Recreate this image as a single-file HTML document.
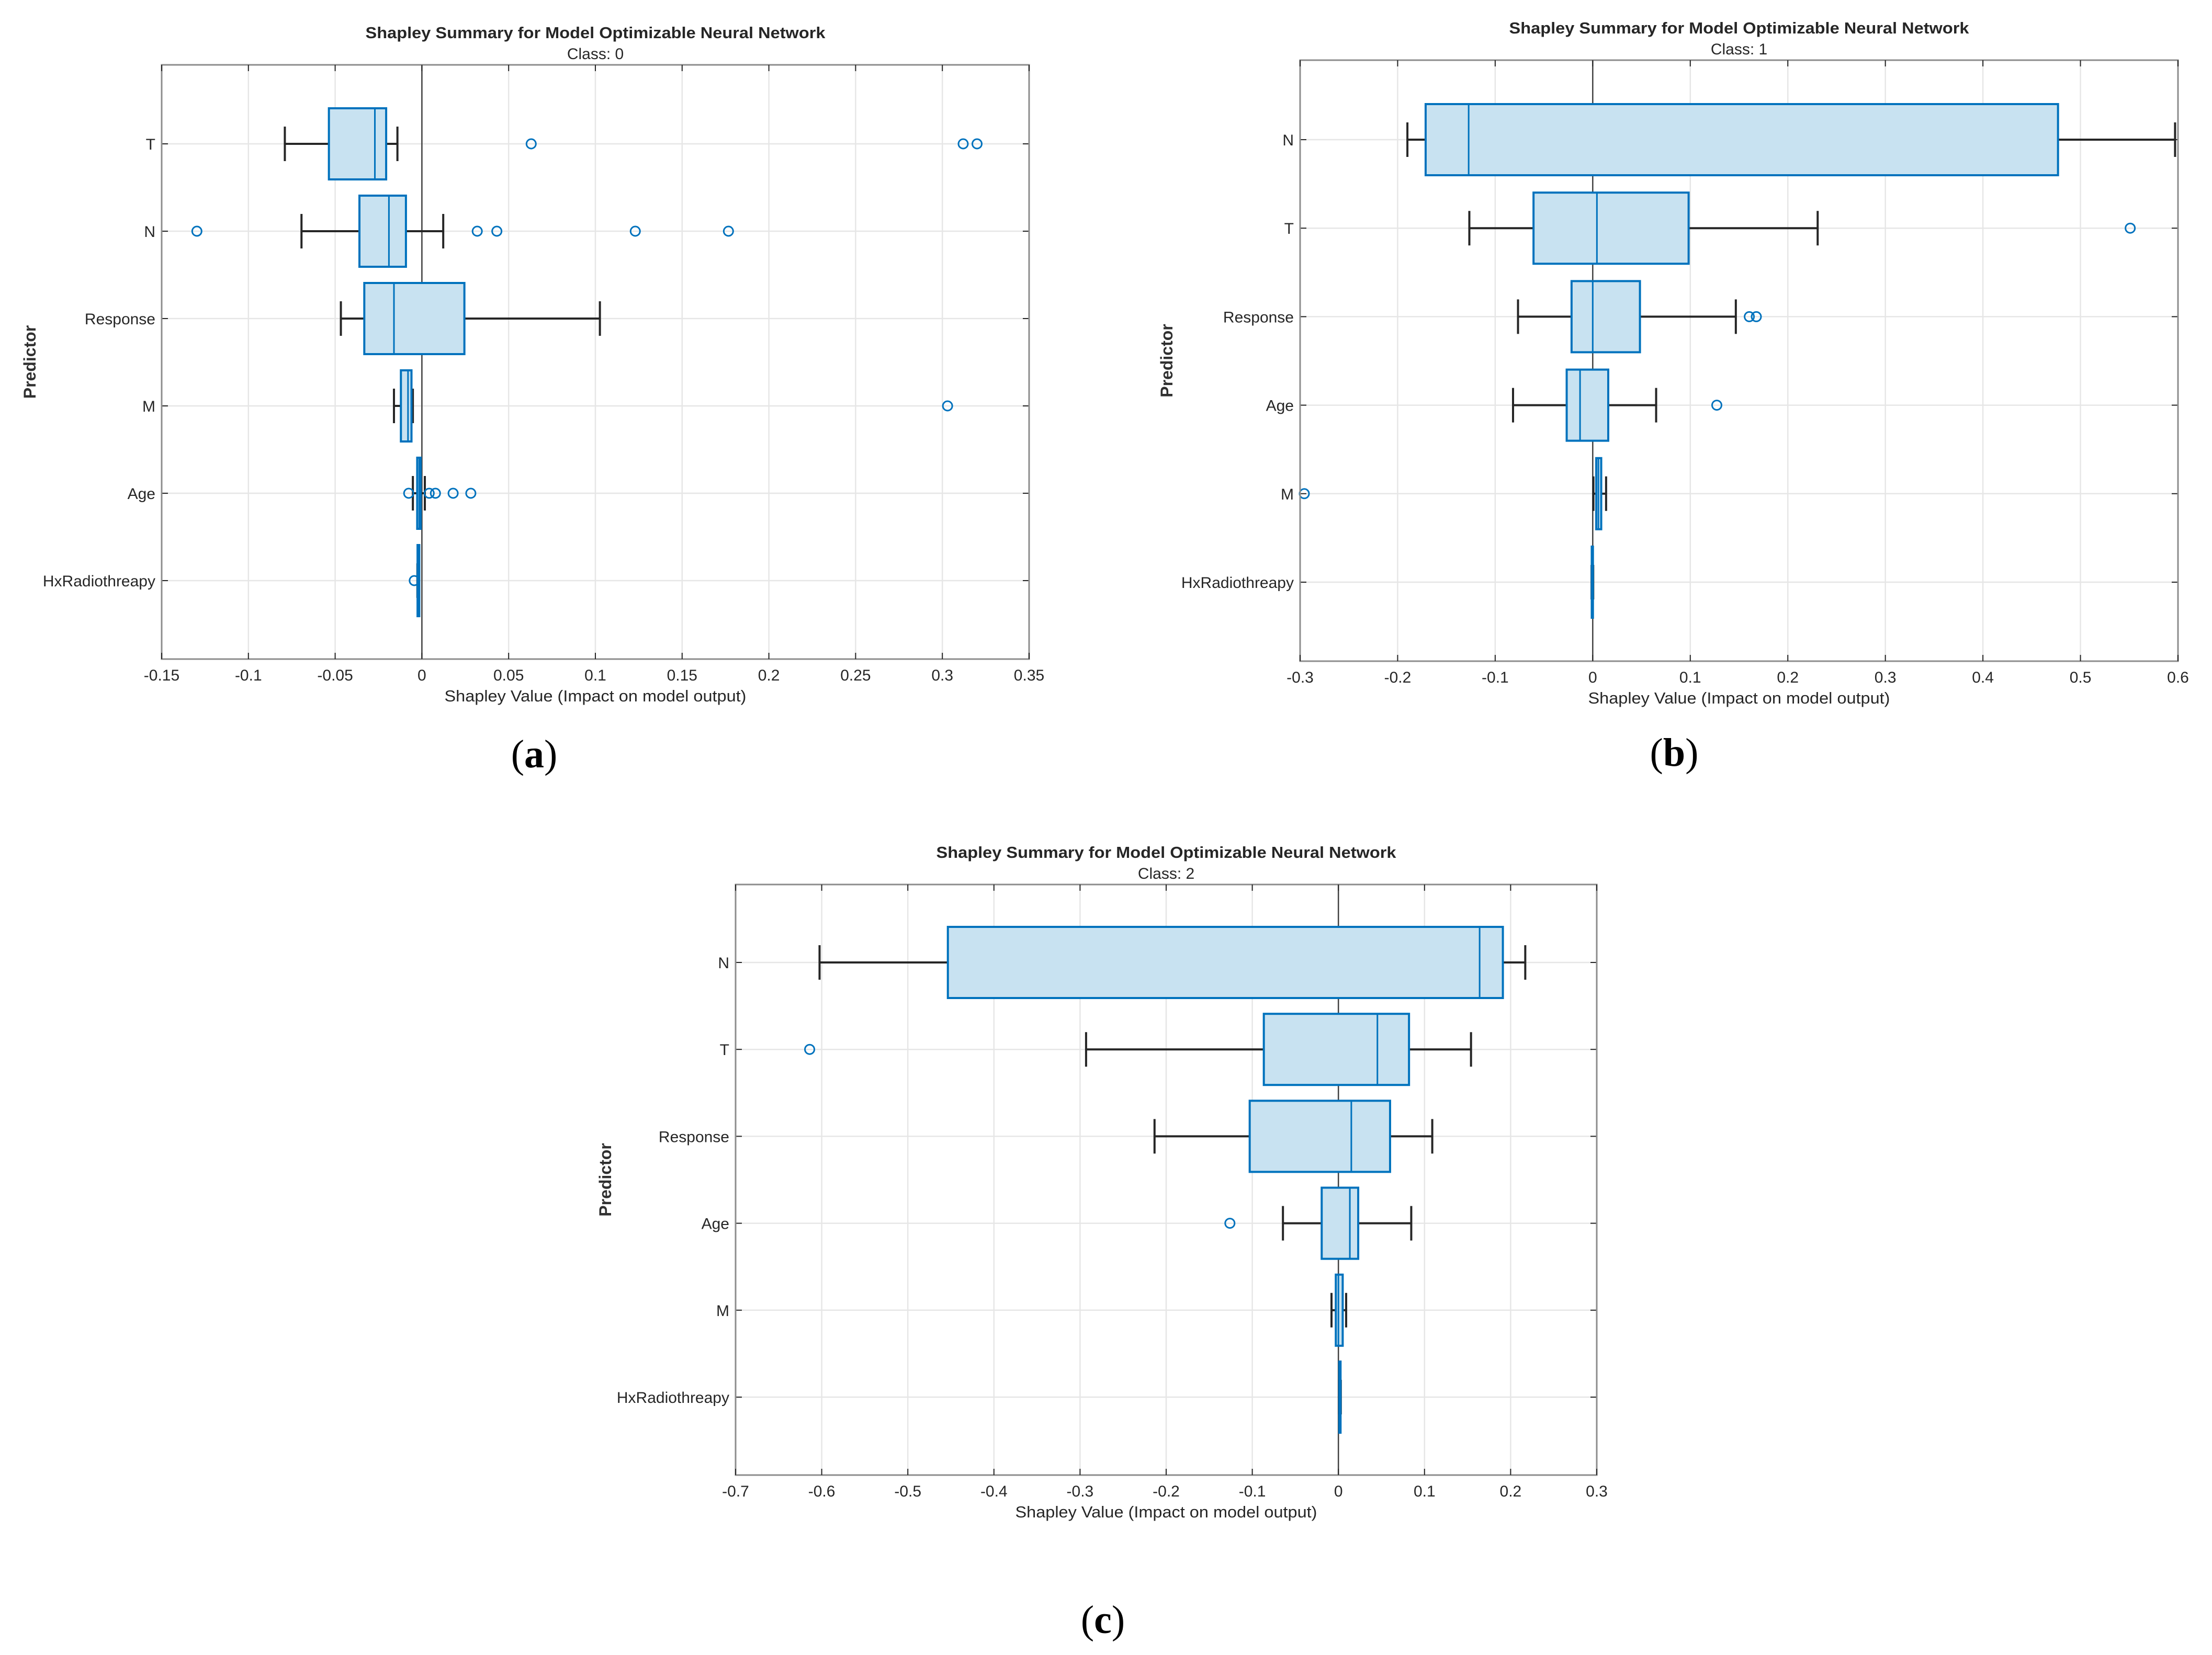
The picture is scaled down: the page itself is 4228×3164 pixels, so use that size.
<!DOCTYPE html>
<html><head><meta charset="utf-8">
<style>
html,body{margin:0;padding:0;background:#fff;}
svg{display:block;}
text{font-family:"Liberation Sans",Arial,sans-serif;fill:#262626;}
</style></head>
<body>
<svg id="fig" width="4228" height="3164" viewBox="0 0 4228 3164" xmlns="http://www.w3.org/2000/svg">
<rect width="4228" height="3164" fill="#fff"/>
</svg>
<script>
// ---- Panel (a): Class 0 ----
const catsA = ["T","N","Response","M","Age","HxRadiothreapy"];
const wloA = [-0.079,-0.0694,-0.0467,-0.0161,-0.0052,-0.0026];
const q1A  = [-0.0536,-0.036,-0.0332,-0.0121,-0.0027,-0.0025];
const medA = [-0.0271,-0.019,-0.0161,-0.008,-0.0015,-0.002];
const q3A  = [-0.0206,-0.0092,0.0245,-0.006,-0.0007,-0.0015];
const whiA = [-0.0141,0.0123,0.1026,-0.0052,0.0017,-0.0016];
const outA = [[0.063,0.312,0.320],[-0.1297,0.0319,0.0432,0.123,0.1767],[],[0.303],[-0.0076,0.0042,0.0078,0.018,0.0282],[-0.0044]];
const ticksA = ["-0.15","-0.1","-0.05","0","0.05","0.1","0.15","0.2","0.25","0.3","0.35"];
const tickValsA = [-0.15,-0.1,-0.05,0,0.05,0.1,0.15,0.2,0.25,0.3,0.35];

// ---- Panel (b): Class 1 ----
const catsB = ["N","T","Response","Age","M","HxRadiothreapy"];
const wloB = [-0.190,-0.1265,-0.0766,-0.0817,0.0007,-0.0012];
const q1B  = [-0.1713,-0.0607,-0.0217,-0.0267,0.0036,-0.001];
const medB = [-0.1272,0.0043,0.0,-0.013,0.0058,-0.0005];
const q3B  = [0.477,0.0983,0.0484,0.0159,0.0087,0.0002];
const whiB = [0.597,0.2306,0.1467,0.065,0.0137,0.0005];
const outB = [[],[0.551],[0.1605,0.1677],[0.1272],[-0.2957],[]];
const ticksB = ["-0.3","-0.2","-0.1","0","0.1","0.2","0.3","0.4","0.5","0.6"];
const tickValsB = [-0.3,-0.2,-0.1,0,0.1,0.2,0.3,0.4,0.5,0.6];

// ---- Panel (c): Class 2 ----
const catsC = ["N","T","Response","Age","M","HxRadiothreapy"];
const wloC = [-0.6025,-0.293,-0.2135,-0.0644,-0.008,0.0008];
const q1C  = [-0.4535,-0.0866,-0.103,-0.0194,-0.003,0.001];
const medC = [0.164,0.0453,0.015,0.0133,0.0,0.0018];
const q3C  = [0.191,0.082,0.06,0.023,0.005,0.0025];
const whiC = [0.217,0.154,0.109,0.0846,0.009,0.0028];
const outC = [[],[-0.614],[],[-0.126],[],[]];
const ticksC = ["-0.7","-0.6","-0.5","-0.4","-0.3","-0.2","-0.1","0","0.1","0.2","0.3"];
const tickValsC = [-0.7,-0.6,-0.5,-0.4,-0.3,-0.2,-0.1,0,0.1,0.2,0.3];

const NS = "http://www.w3.org/2000/svg";
const svg = document.getElementById("fig");
function mk(tag, attrs, parent){
  const e = document.createElementNS(NS, tag);
  for (const k in attrs) e.setAttribute(k, attrs[k]);
  (parent||svg).appendChild(e);
  return e;
}

function panel(cfg){
  const g = mk("g", {});
  
  
  const L=cfg.left,R=cfg.right,T=cfg.top,B=cfg.bottom;
  const xmin=cfg.tickVals[0], xmax=cfg.tickVals[cfg.tickVals.length-1];
  const X = v => L + (v - xmin)/(xmax - xmin)*(R-L);
  const Y = i => cfg.row0 + cfg.rowStep*i;
  const halfBox = 68, halfCap = 33;

  cfg.tickVals.forEach((v,i)=>{
    const gl = mk("line",{x1:X(v),x2:X(v),y1:T,y2:B,stroke:"#e6e6e6","stroke-width":2.5},g);
    
    
  });
  cfg.cats.forEach((c,i)=>{
    const gl = mk("line",{x1:L,x2:R,y1:Y(i),y2:Y(i),stroke:"#e6e6e6","stroke-width":2.5},g);
    
    
  });
  const z = mk("line",{x1:X(0),x2:X(0),y1:T,y2:B,stroke:"#404040","stroke-width":2.5},g);
  
  

  cfg.cats.forEach((c,i)=>{
    const y=Y(i);
    const bg = mk("g",{},g);
    
    
    mk("line",{x1:X(cfg.wlo[i]),x2:X(cfg.q1[i]),y1:y,y2:y,stroke:"#262626","stroke-width":4},bg);
    mk("line",{x1:X(cfg.q3[i]),x2:X(cfg.whi[i]),y1:y,y2:y,stroke:"#262626","stroke-width":4},bg);
    mk("line",{x1:X(cfg.wlo[i]),x2:X(cfg.wlo[i]),y1:y-halfCap,y2:y+halfCap,stroke:"#262626","stroke-width":4},bg);
    mk("line",{x1:X(cfg.whi[i]),x2:X(cfg.whi[i]),y1:y-halfCap,y2:y+halfCap,stroke:"#262626","stroke-width":4},bg);
    const w = Math.max(X(cfg.q3[i])-X(cfg.q1[i]),2);
    mk("rect",{x:X(cfg.q1[i]),y:y-halfBox,width:w,height:2*halfBox,fill:"#c8e2f1",stroke:"#0072bd","stroke-width":4},bg);
    mk("line",{x1:X(cfg.med[i]),x2:X(cfg.med[i]),y1:y-halfBox,y2:y+halfBox,stroke:"#0072bd","stroke-width":3},bg);
    cfg.out[i].forEach(v=>{
      const o = mk("circle",{cx:X(v),cy:y,r:9,fill:"none",stroke:"#0072bd","stroke-width":3},bg);
      
      
    });
    const lbl = mk("text",{x:L-12,y:y+11,"text-anchor":"end","font-size":30},g);
    lbl.textContent = c;
    
    
    mk("line",{x1:L,x2:L+12,y1:y,y2:y,stroke:"#262626","stroke-width":2},g);
    mk("line",{x1:R-12,x2:R,y1:y,y2:y,stroke:"#262626","stroke-width":2},g);
  });

  const ax = mk("rect",{x:L,y:T,width:R-L,height:B-T,fill:"none",stroke:"#8c8c8c","stroke-width":3},g);
  
  

  cfg.tickVals.forEach((v,i)=>{
    mk("line",{x1:X(v),x2:X(v),y1:B-12,y2:B,stroke:"#262626","stroke-width":2},g);
    mk("line",{x1:X(v),x2:X(v),y1:T,y2:T+12,stroke:"#262626","stroke-width":2},g);
    const t = mk("text",{x:X(v),y:B+41,"text-anchor":"middle","font-size":30},g);
    t.textContent = cfg.ticks[i];
    
    
  });

  const cx=(L+R)/2;
  const ti = mk("text",{x:cx,y:T-51,"text-anchor":"middle","font-size":31,"font-weight":"bold",textLength:879,lengthAdjust:"spacingAndGlyphs"},g);
  ti.textContent = "Shapley Summary for Model Optimizable Neural Network";
  
  
  const st = mk("text",{x:cx,y:T-11,"text-anchor":"middle","font-size":30},g);
  st.textContent = cfg.cls;
  
  
  const xl = mk("text",{x:cx,y:B+81,"text-anchor":"middle","font-size":31,textLength:577,lengthAdjust:"spacingAndGlyphs"},g);
  xl.textContent = "Shapley Value (Impact on model output)";
  
  
  const yl = mk("text",{x:0,y:0,"text-anchor":"middle","font-size":32,"font-weight":"bold",style:"fill:#303030",transform:`translate(${cfg.predX+11},${(T+B)/2}) rotate(-90)`},g);
  yl.textContent = "Predictor";
  
  

  const sl = mk("text",{x:cfg.subX,y:cfg.subY,"text-anchor":"middle","font-size":76,style:"font-family:'Liberation Serif',serif;fill:#000"},g);
  sl.innerHTML = '(<tspan font-weight="bold">'+cfg.sub+'</tspan>)';
  
  
}

panel({name:"panel-a-class-0",cats:catsA,wlo:wloA,q1:q1A,med:medA,q3:q3A,whi:whiA,out:outA,ticks:ticksA,tickVals:tickValsA,
  left:309,right:1967,top:124,bottom:1260,row0:275,rowStep:167,cls:"Class: 0",predX:57,sub:"a",subX:1021,subY:1467});
panel({name:"panel-b-class-1",cats:catsB,wlo:wloB,q1:q1B,med:medB,q3:q3B,whi:whiB,out:outB,ticks:ticksB,tickVals:tickValsB,
  left:2485,right:4163,top:115,bottom:1264,row0:267,rowStep:169.2,cls:"Class: 1",predX:2230,sub:"b",subX:3200,subY:1464});
panel({name:"panel-c-class-2",cats:catsC,wlo:wloC,q1:q1C,med:medC,q3:q3C,whi:whiC,out:outC,ticks:ticksC,tickVals:tickValsC,
  left:1406,right:3052,top:1691,bottom:2820,row0:1840,rowStep:166.2,cls:"Class: 2",predX:1157,sub:"c",subX:2108,subY:3122});
</script>
</body></html>
